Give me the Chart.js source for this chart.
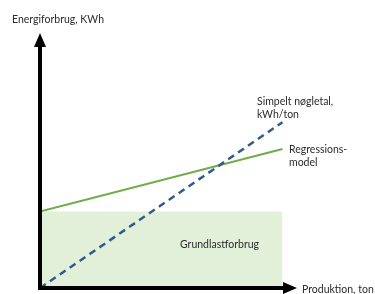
<!DOCTYPE html>
<html>
<head>
<meta charset="utf-8">
<script src="https://cdn.jsdelivr.net/npm/chart.js@4"></script>
<style>
  html,body{margin:0;padding:0;background:#fff;}
  #wrap{width:375px;height:294px;position:relative;}
</style>
</head>
<body>
<div id="wrap"><canvas id="chart"></canvas></div>
<script>
// production axis (x) and energy (y), arbitrary units
const xEnds = [0, 100];
const baseLoad = [30, 30];        // Grundlastforbrug
const regression = [30, 54.5];    // Regressionsmodel
const simpleKpi = [0, 65];        // Simpelt nøgletal
const axisMax = {x: 106, y: 100};

const toPts = ys => xEnds.map((x,i)=>({x:x, y:ys[i]}));

// draw arrows + text labels
const decor = {
  id: "decor",
  afterDatasetsDraw(chart){
    const ctx = chart.ctx;
    const xs = chart.scales.x, ys = chart.scales.y;
    const x0 = xs.getPixelForValue(0), y0 = ys.getPixelForValue(0);
    const xEnd = xs.getPixelForValue(axisMax.x), yEnd = ys.getPixelForValue(axisMax.y);

    ctx.save();
    ctx.strokeStyle = "#000";
    ctx.fillStyle = "#000";
    ctx.lineWidth = 4;
    ctx.beginPath();
    ctx.moveTo(x0, y0 + 2);
    ctx.lineTo(x0, yEnd + 12);
    ctx.moveTo(x0 - 2, y0);
    ctx.lineTo(xEnd - 12, y0);
    ctx.stroke();

    // arrow heads
    ctx.beginPath();
    ctx.moveTo(x0, yEnd);
    ctx.lineTo(x0 - 6, yEnd + 14);
    ctx.lineTo(x0 + 6, yEnd + 14);
    ctx.closePath();
    ctx.moveTo(xEnd, y0);
    ctx.lineTo(xEnd - 14, y0 - 6);
    ctx.lineTo(xEnd - 14, y0 + 6);
    ctx.closePath();
    ctx.fill();

    ctx.fillStyle = "#2b2b2b";
    ctx.font = "10.5px Lato, 'Open Sans', sans-serif";
    ctx.textBaseline = "middle";
    ctx.textAlign = "left";
    ctx.fillText("Energiforbrug, KWh", 12, 20);
    ctx.fillText("Simpelt nøgletal,", 257, 102);
    ctx.fillText("kWh/ton", 257, 115);
    ctx.fillText("Regressions-", 289, 150);
    ctx.fillText("model", 289, 163);
    ctx.fillText("Grundlastforbrug", 180, 245);
    ctx.fillText("Produktion, ton", 302, 290);
    ctx.restore();
  }
};

new Chart(document.getElementById("chart"),{
  type:"line",
  data:{
    datasets:[
      {
        label:"Simpelt nøgletal",
        data:toPts(simpleKpi),
        borderColor:"#2e5b8c",
        borderWidth:2.5,
        borderDash:[7,5],
        pointRadius:0,
        fill:false,
        order:1
      },
      {
        label:"Regressionsmodel",
        data:toPts(regression),
        borderColor:"#70ad47",
        borderWidth:2,
        pointRadius:0,
        fill:false,
        order:2
      },
      {
        label:"Grundlastforbrug",
        data:toPts(baseLoad),
        borderWidth:0,
        borderColor:"rgba(0,0,0,0)",
        backgroundColor:"#e2f0d9",
        pointRadius:0,
        fill:"origin",
        order:3
      }
    ]
  },
  options:{
    responsive:true,
    maintainAspectRatio:false,
    animation:false,
    layout:{padding:{left:40,right:78,top:33,bottom:6}},
    plugins:{legend:{display:false},tooltip:{enabled:false}},
    scales:{
      x:{type:"linear",min:0,max:axisMax.x,display:false},
      y:{type:"linear",min:0,max:axisMax.y,display:false}
    }
  },
  plugins:[decor]
});
</script>
</body>
</html>
